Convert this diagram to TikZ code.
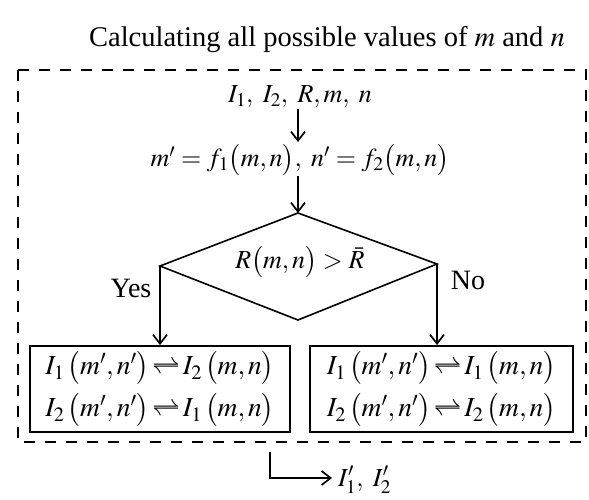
\documentclass[tikz,border=0pt]{standalone}
\usepackage{mathptmx}
\usepackage[no-math]{fontspec}
\setmainfont{Liberation Serif}
\usetikzlibrary{shapes.geometric,arrows.meta}
\begin{document}
\begin{tikzpicture}[x=1pt,y=-1pt,
  txt/.style={font=\fontsize{26}{30}\selectfont, inner sep=0pt},
  btxt/.style={font=\fontsize{27.5}{30}\selectfont, inner sep=0pt},
  arr/.style={line width=1.7pt, -{Straight Barb[length=9pt,width=14pt,line width=1.7pt]}},
  box/.style={draw, line width=1.9pt},
  dbox/.style={draw, line width=1.8pt, dash pattern=on 11pt off 10pt}]
\useasboundingbox (0,0) rectangle (589,499);
\node[txt, font=\fontsize{28.5}{32}\selectfont] (title) at (327,40) {Calculating all possible values of $m$ and $n$};
\draw[dbox] (18,70) rectangle (586,442);
\node[txt] (in) at (300,97) {$I_1,\ I_2,\ R, m,\ n$};
\node[txt] (f) at (300,160) {$m'=f_1\bigl(m,n\bigr),\ n'=f_2\bigl(m,n\bigr)$};
\coordinate (a1s) at (298,109);
\coordinate (a1e) at (298,142);
\draw[arr] (a1s) -- (a1e);
\coordinate (dn) at (298,213);
\coordinate (dw) at (160,266);
\coordinate (ds) at (298,320);
\coordinate (de) at (437,264);
\draw[line width=1.6pt, line join=miter] (dn) -- (de) -- (ds) -- (dw) -- cycle;
\node[txt] (dt) at (300,262) {$R\bigl(m,n\bigr)>\bar{R}$};
\coordinate (a2s) at (298,176);
\draw[arr] (a2s) -- (dn);
\node[box, minimum width=260pt, minimum height=86pt, inner sep=0pt] (L) at (160,389) {};
\node[box, minimum width=263pt, minimum height=86pt, inner sep=0pt] (Rb) at (441.5,389) {};
\node[btxt] (l1) at (160,368) {$I_1\,\bigl(m',n'\bigr)\,{\rightleftharpoons}\,I_2\,\bigl(m,n\bigr)$};
\node[btxt] (l2) at (160,410) {$I_2\,\bigl(m',n'\bigr)\,{\rightleftharpoons}\,I_1\,\bigl(m,n\bigr)$};
\node[btxt] (r1) at (441.5,368) {$I_1\,\bigl(m',n'\bigr)\,{\rightleftharpoons}\,I_1\,\bigl(m,n\bigr)$};
\node[btxt] (r2) at (441.5,410) {$I_2\,\bigl(m',n'\bigr)\,{\rightleftharpoons}\,I_2\,\bigl(m,n\bigr)$};
\draw[arr] (dw) -- (dw |- L.north);
\draw[arr] (de) -- (de |- Rb.north);
\node[txt, font=\fontsize{28}{30}\selectfont] (yes) at (131,288) {Yes};
\node[txt, font=\fontsize{28}{30}\selectfont] (no) at (468,280) {No};
\coordinate (h0) at (270,452);
\coordinate (h1) at (270,478);
\coordinate (h2) at (332,478);
\draw[arr] (h0) -- (h1) -- (h2);
\node[txt, anchor=west] (out) at (338,480) {$I_1',\ I_2'$};
\end{tikzpicture}
\end{document}
